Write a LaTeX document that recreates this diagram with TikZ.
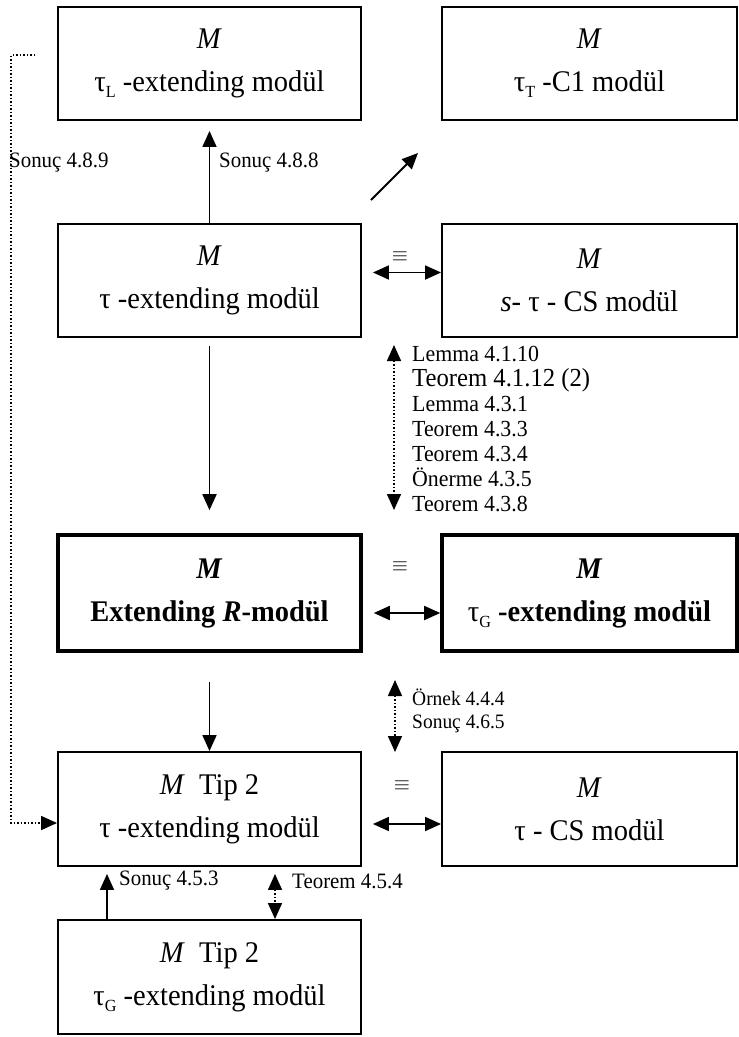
\documentclass[tikz,border=0pt]{standalone}
\usepackage{fontspec}
\setmainfont[FakeStretch=0.95]{Liberation Serif}
\usetikzlibrary{arrows.meta}

\newcommand{\tausub}[1]{τ\raisebox{-0.45ex}{\fontsize{17}{17}\selectfont #1}}

\tikzset{
  box/.style={draw, line width=1.9pt, minimum width=303pt, minimum height=113pt,
    align=center, inner sep=0pt, font=\fontsize{30}{43}\selectfont},
  thickbox/.style={box, line width=3.6pt},
  arr/.style={line width=1.8pt, -{Triangle[length=16pt,width=14pt]}},
  darr/.style={line width=1.8pt, {Triangle[length=16pt,width=14pt]}-{Triangle[length=16pt,width=14pt]}},
  dotarr/.style={line width=1.5pt, dotted, -{Triangle[length=16pt,width=14pt]}},
  ddotarr/.style={line width=1.5pt, dotted, {Triangle[length=16pt,width=14pt]}-{Triangle[length=16pt,width=14pt]}},
  ref/.style={font=\fontsize{22}{25}\selectfont, align=left, inner sep=0pt},
  eqv/.style={font=\fontsize{20}{20}\selectfont, inner sep=0pt},
}

\begin{document}
\begin{tikzpicture}[x=1pt,y=-1pt]
\useasboundingbox (0,0) rectangle (739,1037);

% boxes
\node[box] (tl) at (209.5,63.5) {\textit{M}\\\tausub{L} -extending modül};
\node[box, minimum width=295pt] (tt) at (589.5,63.5) {\textit{M}\\\tausub{T} -C1 modül};
\node[box] (te) at (209.5,280.5) {\textit{M}\\τ -extending modül};
\node[box, minimum width=295pt] (stcs) at (589.5,280.5) {\textit{M}\\\textit{s}- τ - CS modül};
\node[thickbox, minimum height=116pt] (ext) at (209.5,593) {\textbf{\textit{M}}\\\textbf{Extending \textit{R}-modül}};
\node[thickbox, minimum height=116pt, minimum width=295pt] (tg) at (589.5,593) {\textbf{\textit{M}}\\\tausub{G} \textbf{-extending modül}};
\node[box, minimum height=114pt] (tip) at (209.5,809) {\textit{M}\ \ Tip 2\\τ -extending modül};
\node[box, minimum height=114pt, minimum width=295pt] (tcs) at (589.5,809) {\textit{M}\\τ - CS modül};
\node[box, minimum height=114pt] (tipg) at (209.5,977) {\textit{M}\ \ Tip 2\\\tausub{G} -extending modül};

% equivalences
\node[eqv] (eq1) at (400,257) {$\equiv$};
\node[eqv] (eq2) at (400,567) {$\equiv$};
\node[eqv] (eq3) at (402,786) {$\equiv$};

% references
\node[ref, anchor=west] (r1) at (9,163) {Sonuç 4.8.9};
\node[ref, anchor=west] (r2) at (219,163) {Sonuç 4.8.8};
\node[ref, anchor=north west, font=\fontsize{23}{25}\selectfont] (r3) at (412,346)
  {Lemma 4.1.10\\{\fontsize{26}{25}\selectfont Teorem 4.1.12 (2)}\\Lemma 4.3.1\\Teorem 4.3.3\\Teorem 4.3.4\\Önerme 4.3.5\\Teorem 4.3.8};
\node[ref, anchor=north west, font=\fontsize{20.5}{23}\selectfont] (r4) at (412,689) {Örnek 4.4.4\\Sonuç 4.6.5};
\node[ref, anchor=west] (r5) at (119,881) {Sonuç 4.5.3};
\node[ref, anchor=west] (r6) at (292,881) {Teorem 4.5.4};

\coordinate (d0) at (35,55);
\coordinate (d1) at (11,55);
\coordinate (g0) at (371,200);
\coordinate (g1) at (418,153);
\coordinate (v0) at (394,345);
\coordinate (v1) at (394,510);
\coordinate (w0) at (395,680);
\coordinate (w1) at (395,752);

% arrows
\draw[arr, shorten >=10pt] (te.north) -- (tl.south);
\draw[arr] (g0) -- (g1);
\draw[darr, shorten <=11pt] ([yshift=8pt]te.east) -- ([yshift=8pt]stcs.west);
\draw[arr, shorten <=8pt, shorten >=23pt] (te.south) -- (ext.north);
\draw[ddotarr] (v0) -- (v1);
\draw[darr, shorten <=11pt] ([yshift=-20pt]ext.east) -- ([yshift=-20pt]tg.west);
\draw[arr, shorten <=29pt] (ext.south) -- (tip.north);
\draw[ddotarr] (w0) -- (w1);
\draw[darr, shorten <=11pt] ([yshift=-15pt]tip.east) -- ([yshift=-15pt]tcs.west);
\draw[dotarr] (d0) -- (d1) |- ([yshift=-14pt]tip.west);
\draw[arr, shorten >=7pt] ([xshift=-102.5pt]tipg.north) -- ([xshift=-102.5pt]tip.south);
\draw[ddotarr, shorten <=7pt] ([xshift=65.5pt]tip.south) -- ([xshift=65.5pt]tipg.north);
\end{tikzpicture}
\end{document}
